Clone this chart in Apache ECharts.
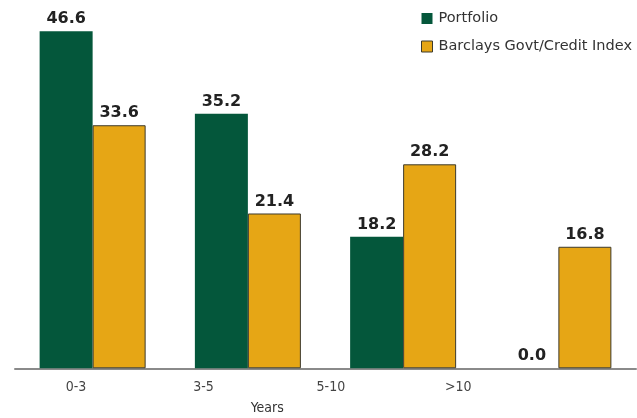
<!DOCTYPE html>
<html>
<head>
<meta charset="utf-8">
<script src="https://cdn.jsdelivr.net/npm/echarts@6/dist/echarts.min.js"></script>
<style>
  html, body { margin: 0; padding: 0; background: #ffffff; }
  #chart { width: 637px; height: 418px; }
</style>
</head>
<body>
<div id="chart"></div>
<script>
// Maturity buckets (years) and allocation percentages
const categories = ['0-3', '3-5', '5-10', '>10'];
const portfolio = [46.6, 35.2, 18.2, 0.0];
const benchmark = [33.6, 21.4, 28.2, 16.8];
const seriesNames = ['Portfolio', 'Barclays Govt/Credit Index'];
const axisTitle = 'Years';

const GREEN = '#04573b';
const GOLD = '#e6a615';
const FONT = 'DejaVu Sans';
const NARROW = '"DejaVu Sans Condensed", "DejaVu Sans", sans-serif';

const chart = echarts.init(document.getElementById('chart'), null, { renderer: 'canvas' });

const valueLabel = {
  show: true,
  position: 'top',
  distance: 4,
  fontFamily: FONT,
  fontWeight: 'bold',
  fontSize: 16,
  color: '#222222',
  formatter: p => p.value.toFixed(1)
};

chart.setOption({
  animation: false,
  backgroundColor: '#ffffff',
  legend: {
    orient: 'vertical',
    left: 421,
    top: 11,
    padding: 0,
    icon: 'rect',
    itemWidth: 11,
    itemHeight: 11,
    itemGap: 13,
    textStyle: { fontFamily: FONT, fontSize: 14.5, color: '#333333', padding: [0, 0, 0, 1] },
    data: [
      { name: seriesNames[0], itemStyle: { color: GREEN, borderWidth: 0 } },
      { name: seriesNames[1], itemStyle: { color: GOLD, borderColor: '#3d3a2c', borderWidth: 1 } }
    ]
  },
  grid: [
    // bars
    { left: 15, width: 621, top: 6.6, bottom: 49.7, outerBoundsMode: 'none', containLabel: false },
    // category captions
    { left: 12.4, width: 509.6, top: 6.6, bottom: 49.7, outerBoundsMode: 'none', containLabel: false }
  ],
  xAxis: [
    {
      type: 'category',
      gridIndex: 0,
      data: categories,
      axisLine: { show: true, lineStyle: { color: '#8a8a8a', width: 2 } },
      axisTick: { show: false },
      axisLabel: { show: false }
    },
    {
      type: 'category',
      gridIndex: 1,
      data: categories,
      axisLine: { show: false },
      axisTick: { show: false },
      axisLabel: { fontFamily: NARROW, fontSize: 14, color: '#444444', margin: 12 },
      name: axisTitle,
      nameLocation: 'middle',
      nameGap: 33,
      nameTextStyle: { fontFamily: NARROW, fontSize: 14, color: '#333333' }
    }
  ],
  yAxis: [
    { type: 'value', gridIndex: 0, min: 0, max: 50, show: false },
    { type: 'value', gridIndex: 1, min: 0, max: 50, show: false }
  ],
  series: [
    {
      name: seriesNames[0],
      type: 'bar',
      xAxisIndex: 0,
      yAxisIndex: 0,
      data: portfolio,
      barWidth: 53,
      barGap: '0%',
      itemStyle: { color: GREEN },
      label: valueLabel
    },
    {
      name: seriesNames[1],
      type: 'bar',
      xAxisIndex: 0,
      yAxisIndex: 0,
      data: benchmark,
      barWidth: 53,
      barGap: '0%',
      itemStyle: { color: GOLD, borderColor: '#3d3a2c', borderWidth: 1 },
      label: valueLabel
    }
  ]
});
</script>
</body>
</html>
